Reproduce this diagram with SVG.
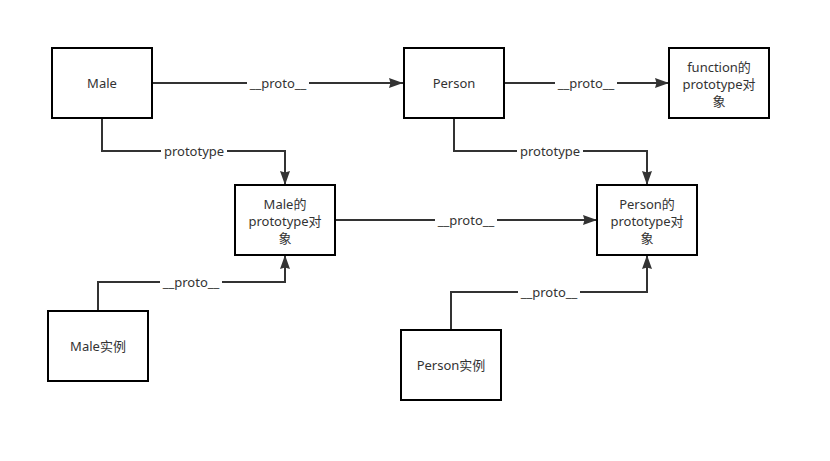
<svg xmlns="http://www.w3.org/2000/svg" width="830" height="461" viewBox="0 0 830 461">
<defs>
<marker id="arr" viewBox="0 0 14 10" refX="14" refY="5" markerWidth="14" markerHeight="10" markerUnits="userSpaceOnUse" orient="auto">
<path d="M0,0 L14,5 L0,10 L1.5,5 Z" fill="#333"/>
</marker>
<style>
.box{fill:#fff;stroke:#000;stroke-width:2}
.t{font-family:"Noto Sans","Noto Sans CJK SC",sans-serif;font-size:13px;fill:#333;text-anchor:middle;dominant-baseline:central}
.c{fill:none;stroke:#333;stroke-width:2;marker-end:url(#arr)}
.lb{fill:#fff}
</style>
</defs>
<rect width="830" height="461" fill="#fff"/>
<g id="connectors">
<path class="c" d="M152,83 L403,83"/>
<path class="c" d="M504,83 L669,83"/>
<path class="c" d="M102,118 L102,151 L285,151 L285,185"/>
<path class="c" d="M454,118 L454,151 L647,151 L647,185"/>
<path class="c" d="M335,220 L597,220"/>
<path class="c" d="M98,311 L98,282 L285,282 L285,255"/>
<path class="c" d="M451,330 L451,292 L647,292 L647,255"/>
<rect class="lb" x="247" y="74" width="62" height="18"/>
<text class="t" x="278" y="83">__proto__</text>
<rect class="lb" x="555" y="74" width="62" height="18"/>
<text class="t" x="586" y="83">__proto__</text>
<rect class="lb" x="161" y="142" width="66" height="18"/>
<text class="t" x="194" y="151">prototype</text>
<rect class="lb" x="517" y="142" width="66" height="18"/>
<text class="t" x="550" y="151">prototype</text>
<rect class="lb" x="435" y="211" width="62" height="18"/>
<text class="t" x="466" y="220">__proto__</text>
<rect class="lb" x="160" y="273" width="62" height="18"/>
<text class="t" x="191" y="282">__proto__</text>
<rect class="lb" x="518" y="283" width="62" height="18"/>
<text class="t" x="549" y="292">__proto__</text>
</g>
<g id="male">
<rect class="box" x="52" y="48" width="100" height="70"/>
<text class="t" x="102" y="83">Male</text>
</g>
<g id="person">
<rect class="box" x="404" y="48" width="100" height="70"/>
<text class="t" x="454" y="83">Person</text>
</g>
<g id="function-proto">
<rect class="box" x="669" y="48" width="100" height="70"/>
<text class="t" x="719" y="67">function的</text>
<text class="t" x="719" y="84">prototype对</text>
<text class="t" x="719" y="101">象</text>
</g>
<g id="male-proto">
<rect class="box" x="235" y="185" width="100" height="70"/>
<text class="t" x="285" y="204">Male的</text>
<text class="t" x="285" y="221">prototype对</text>
<text class="t" x="285" y="238">象</text>
</g>
<g id="person-proto">
<rect class="box" x="597" y="185" width="100" height="70"/>
<text class="t" x="647" y="204">Person的</text>
<text class="t" x="647" y="221">prototype对</text>
<text class="t" x="647" y="238">象</text>
</g>
<g id="male-instance">
<rect class="box" x="48" y="311" width="100" height="70"/>
<text class="t" x="98" y="346">Male实例</text>
</g>
<g id="person-instance">
<rect class="box" x="401" y="330" width="100" height="70"/>
<text class="t" x="451" y="365">Person实例</text>
</g>
</svg>
